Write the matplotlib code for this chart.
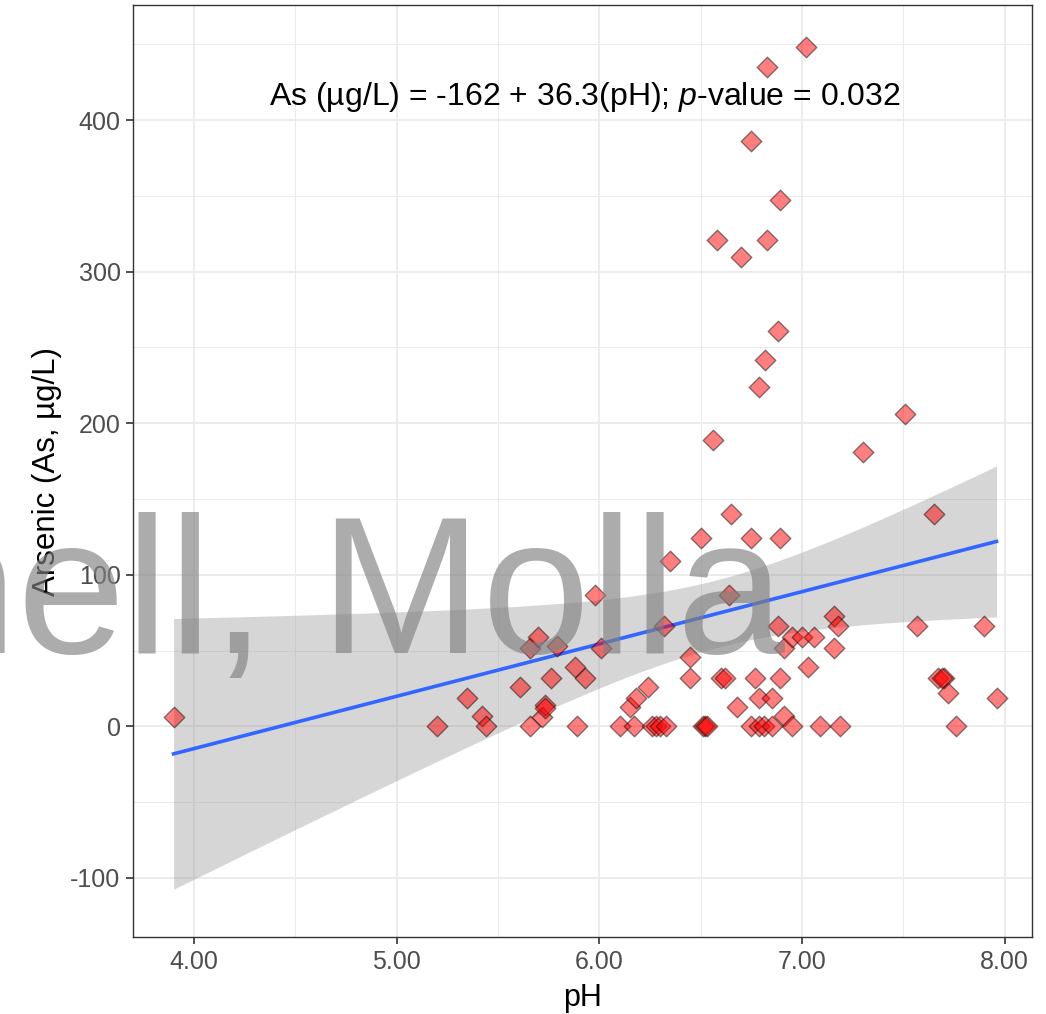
import numpy as np
import matplotlib
matplotlib.use("Agg")
import matplotlib.pyplot as plt
from matplotlib.ticker import MultipleLocator

# pH and arsenic (ug/L)
ph = [3.90, 5.20, 5.35, 5.42, 5.44, 5.61, 5.66, 5.66, 5.70, 5.72,
      5.73, 5.73, 5.76, 5.79, 5.88, 5.89, 5.93, 5.98, 6.01, 6.10,
      6.15, 6.17, 6.18, 6.24, 6.26, 6.28, 6.30, 6.33, 6.32, 6.35,
      6.45, 6.45, 6.50, 6.51, 6.52, 6.53, 6.56, 6.58, 6.60, 6.62,
      6.64, 6.65, 6.68, 6.70, 6.75, 6.75, 6.75, 6.77, 6.79, 6.79,
      6.79, 6.82, 6.815, 6.83, 6.83, 6.85, 6.85, 6.88, 6.89, 6.89,
      6.88, 6.89, 6.91, 6.91, 6.95, 6.95, 7.00, 7.02, 7.03, 7.06,
      7.09, 7.16, 7.18, 7.16, 7.19, 7.30, 7.51, 7.57, 7.65, 7.67,
      7.70, 7.69, 7.72, 7.76, 7.90, 7.96]
arsenic = [6, 0, 19, 7, 0, 26, 52, 0, 59, 6,
           14, 12, 32, 53, 39, 0, 32, 87, 52, 0,
           13, 0, 19, 26, 0, 0, 0, 0, 66, 109,
           46, 32, 124, 0, 0, 0, 189, 321, 32, 32,
           87, 140, 13, 310, 386, 124, 0, 32, 224, 19,
           0, 242, 0, 321, 435, 19, 0, 261, 347, 124,
           66, 32, 52, 7, 59, 0, 59, 448, 39, 59,
           0, 73, 66, 52, 0, 181, 206, 66, 140, 32,
           32, 32, 22, 0, 66, 19]

x_ticks = [4, 5, 6, 7, 8]
y_ticks = [-100, 0, 100, 200, 300, 400]
annot = "As (µg/L) = -162 + 36.3(pH); $\\it{p}$-value = 0.032"

plt.rcParams["font.family"] = ["Liberation Sans", "DejaVu Sans"]
plt.rcParams["axes.unicode_minus"] = False
plt.rcParams["mathtext.fontset"] = "custom"
plt.rcParams["mathtext.it"] = "Liberation Sans:italic"

x = np.asarray(ph)
y = np.asarray(arsenic)

# linear fit with 95% confidence band, like geom_smooth(method = "lm")
n = len(x)
b1, b0 = np.polyfit(x, y, 1)
resid = y - (b0 + b1 * x)
s = np.sqrt(np.sum(resid**2) / (n - 2))
xs = np.linspace(x.min(), x.max(), 80)
se = s * np.sqrt(1.0 / n + (xs - x.mean())**2 / np.sum((x - x.mean())**2))
tcrit = 1.988
fit = b0 + b1 * xs

fig = plt.figure(figsize=(10.46, 10.14), dpi=100)
ax = fig.add_axes([0.1272, 0.0759, 0.8594, 0.9192])

ax.fill_between(xs, fit - tcrit * se, fit + tcrit * se, color="#999999", alpha=0.4, lw=0, zorder=2)
ax.plot(xs, fit, color="#3366FF", lw=2.6, zorder=3)
ax.scatter(x, y, marker="D", s=110, facecolor=(1, 0, 0, 0.5), edgecolor=(0, 0, 0, 0.45),
           linewidth=1.0, zorder=4)

ax.text(5.93, 415, annot, ha="center", va="center", fontsize=23, color="black", zorder=5)

ax.set_xlim(3.70, 8.135)
ax.set_ylim(-139, 476)
ax.set_xticks(x_ticks)
ax.set_xticklabels(["{0:.2f}".format(t) for t in x_ticks])
ax.set_yticks(y_ticks)
ax.xaxis.set_minor_locator(MultipleLocator(0.5))
ax.yaxis.set_minor_locator(MultipleLocator(50))
ax.grid(which="major", color="#EBEBEB", lw=1.3, zorder=0)
ax.grid(which="minor", color="#EBEBEB", lw=0.7, zorder=0)
ax.set_axisbelow(True)
ax.tick_params(which="major", length=5, width=1.2, pad=4, color="#333333", labelcolor="#4D4D4D",
               labelsize=18)
ax.tick_params(which="minor", length=0)
for sp in ax.spines.values():
    sp.set_color("#333333")
    sp.set_linewidth(1.0)

ax.set_xlabel("pH", fontsize=22, labelpad=7)
ax.set_ylabel("Arsenic (As, µg/L)", fontsize=22.5, labelpad=6)

# watermark across the plot
fig.text(-0.0866, 0.356, "nell, Molla", fontsize=140, color="#808080", alpha=0.65,
         va="baseline", zorder=10)

fig.savefig("out.png", dpi=100)
